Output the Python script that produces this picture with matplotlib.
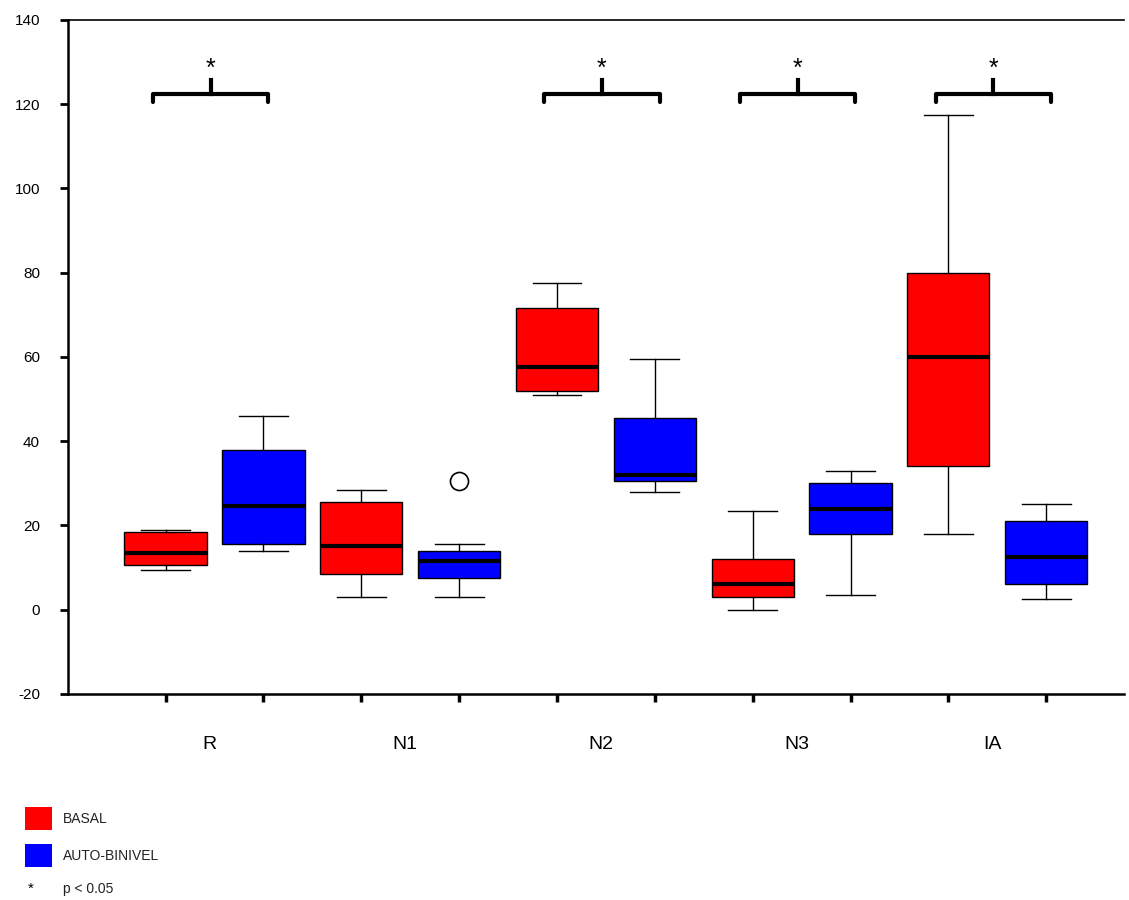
import matplotlib
matplotlib.use("Agg")
import matplotlib.pyplot as plt

# groups and the two conditions
groups = ['R', 'N1', 'N2', 'N3', 'IA']
conditions = ['BASAL', 'AUTO-BINIVEL']
colors = ['#ff0000', '#0000ff']

# box stats, order: R, N1, N2, N3, IA
basal_low = [9.5, 3, 51, 0, 18]
basal_q1 = [10.5, 8.5, 52, 3, 34]
basal_med = [13.5, 15, 57.5, 6, 60]
basal_q3 = [18.5, 25.5, 71.5, 12, 80]
basal_high = [19, 28.5, 77.5, 23.5, 117.5]

auto_low = [14, 3, 28, 3.5, 2.5]
auto_q1 = [15.5, 7.5, 30.5, 18, 6]
auto_med = [24.5, 11.5, 32, 24, 12.5]
auto_q3 = [38, 14, 45.5, 30, 21]
auto_high = [46, 15.5, 59.5, 33, 25]
auto_outliers = [[], [30.5], [], [], []]

# which groups carry a significance bracket
significant = [True, False, True, True, True]

plt.rcParams['font.family'] = ['Liberation Sans', 'DejaVu Sans']
plt.rcParams['axes.unicode_minus'] = False

fig = plt.figure(figsize=(11.29, 9), dpi=100)
ax = fig.add_axes([0.060, 0.229, 0.936, 0.749])

stats = []
positions = []
facecols = []
for i in range(len(groups)):
    stats.append(dict(whislo=basal_low[i], q1=basal_q1[i], med=basal_med[i],
                      q3=basal_q3[i], whishi=basal_high[i], fliers=[]))
    stats.append(dict(whislo=auto_low[i], q1=auto_q1[i], med=auto_med[i],
                      q3=auto_q3[i], whishi=auto_high[i], fliers=auto_outliers[i]))
    positions += [2 * i + 1, 2 * i + 2]
    facecols += colors

bp = ax.bxp(stats, positions=positions, widths=0.84, patch_artist=True,
            showfliers=True, manage_ticks=False,
            boxprops=dict(linewidth=1.0, edgecolor='black'),
            medianprops=dict(color='black', linewidth=3),
            whiskerprops=dict(color='black', linewidth=1.0),
            capprops=dict(color='black', linewidth=1.0),
            capwidths=0.5,
            flierprops=dict(marker='o', markersize=13, markerfacecolor='none',
                            markeredgecolor='black', markeredgewidth=1.2))
for patch, c in zip(bp['boxes'], facecols):
    patch.set_facecolor(c)

# significance brackets
for i, sig in enumerate(significant):
    if not sig:
        continue
    x1 = 2 * i + 1 - 0.13
    x2 = 2 * i + 2 + 0.05
    xm = (x1 + x2) / 2
    ax.plot([x1, x1, x2, x2], [120.5, 122.4, 122.4, 120.5], color='black',
            linewidth=3, solid_capstyle='round', solid_joinstyle='round',
            clip_on=False)
    ax.plot([xm, xm], [122.4, 125.8], color='black', linewidth=3, clip_on=False)
    ax.text(xm, 128.3, '*', ha='center', va='center', fontsize=18)

# group labels under the axis
for i, g in enumerate(groups):
    ax.text(2 * i + 1.45, -0.062, g, transform=ax.get_xaxis_transform(),
            ha='center', va='top', fontsize=14)

ax.set_xlim(0.0, 10.8)
ax.set_ylim(-20, 140)
ax.set_yticks(range(-20, 141, 20))
ax.set_xticks(positions)
ax.set_xticklabels([])
ax.tick_params(axis='y', direction='out', length=6, width=2, labelsize=11, pad=14)
ax.tick_params(axis='x', direction='out', length=6, width=2.5)
ax.spines['right'].set_visible(False)
ax.spines['left'].set_linewidth(1.8)
ax.spines['bottom'].set_linewidth(1.8)
ax.spines['top'].set_linewidth(1.2)

# legend drawn by hand in figure coords
for k, (lab, c) in enumerate(zip(conditions, colors)):
    yb = 1 - (830 + 37 * k) / 900
    fig.patches.append(plt.Rectangle((25 / 1129, yb), 27 / 1129, 23 / 900,
                                     transform=fig.transFigure, facecolor=c,
                                     edgecolor='none'))
    fig.text(63 / 1129, yb + 11 / 900, lab, fontsize=10, va='center', color='#222222')
fig.text(31 / 1129, 1 - 889 / 900, '*', fontsize=11, ha='center', va='center')
fig.text(63 / 1129, 1 - 889 / 900, 'p < 0.05', fontsize=10, va='center', color='#222222')

fig.savefig('out.png', dpi=100)
